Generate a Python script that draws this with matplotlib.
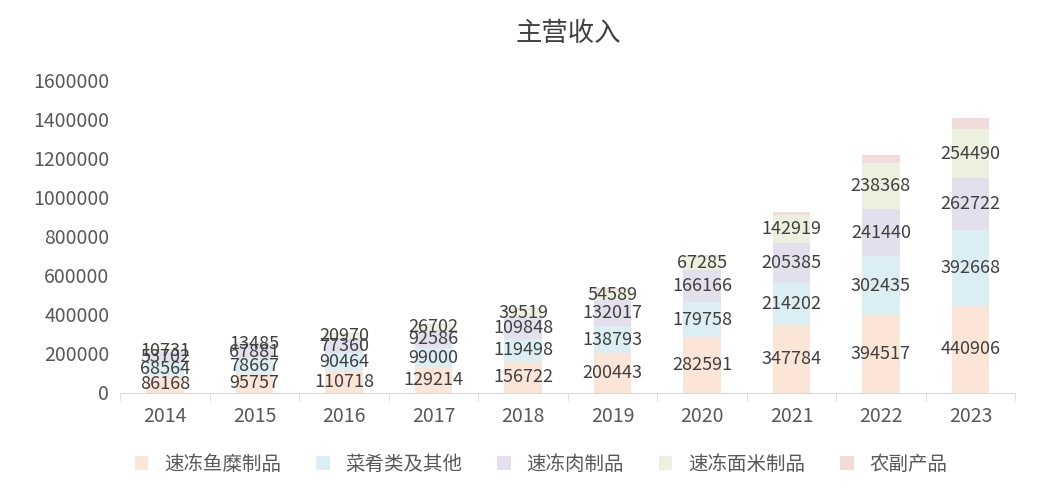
import matplotlib
matplotlib.use("Agg")
import matplotlib.pyplot as plt
import numpy as np

plt.rcParams['font.family'] = ['Noto Sans CJK SC', 'DejaVu Sans']

years = ['2014','2015','2016','2017','2018','2019','2020','2021','2022','2023']
series_names = ['速冻鱼糜制品','菜肴类及其他','速冻肉制品','速冻面米制品','农副产品']
fish = [86168,95757,110718,129214,156722,200443,282591,347784,394517,440906]
dish = [68564,78667,90464,99000,119498,138793,179758,214202,302435,392668]
meat = [53702,67881,77360,92586,109848,132017,166166,205385,241440,262722]
noodle = [10731,13485,20970,26702,39519,54589,67285,142919,238368,254490]
agri = [2000,2500,3000,3500,5000,8000,9000,15000,40000,55000]
colors = ['#FBE5D6','#DAEEF3','#E4DFEC','#EBF1DE','#F2DCDB']

fig, ax = plt.subplots(figsize=(10.38,5.0), dpi=100)
fig.subplots_adjust(left=0.116, right=0.978, top=0.84, bottom=0.215)
x = np.arange(len(years))
bottom = np.zeros(len(years))
for i, (name, vals) in enumerate(zip(series_names, [fish, dish, meat, noodle, agri])):
    vals = np.array(vals, dtype=float)
    ax.bar(x, vals, 0.42, bottom=bottom, color=colors[i], label=name)
    if i < 4:
        for xi, b, v in zip(x, bottom, vals):
            ax.text(xi, b + v/2, str(int(v)), ha='center', va='center', fontsize=13, color='#404040')
    bottom += vals

ax.set_ylim(0, 1600000)
ax.set_yticks(np.arange(0, 1600001, 200000))
ax.set_yticklabels([str(v) for v in range(0, 1600001, 200000)], fontsize=14, color='#595959')
ax.set_xlim(-0.5, len(years)-0.5)
ax.set_xticks(x)
ax.set_xticklabels(years, fontsize=14, color='#595959')
ax.set_xticks(np.arange(-0.5, len(years)), minor=True)
ax.tick_params(axis='x', which='major', length=0, pad=10)
ax.tick_params(axis='x', which='minor', length=6, color='#D9D9D9')
ax.tick_params(axis='y', length=0, pad=8)
for s in ['top','right','left']:
    ax.spines[s].set_visible(False)
ax.spines['bottom'].set_color('#D9D9D9')
ax.set_title('主营收入', fontsize=19, color='#404040', pad=28)
ax.legend(loc='upper center', bbox_to_anchor=(0.47, -0.14), ncol=5, frameon=False,
          fontsize=14, handlelength=0.7, handleheight=0.7, columnspacing=1.8, labelcolor='#595959')
fig.savefig('out.png')
